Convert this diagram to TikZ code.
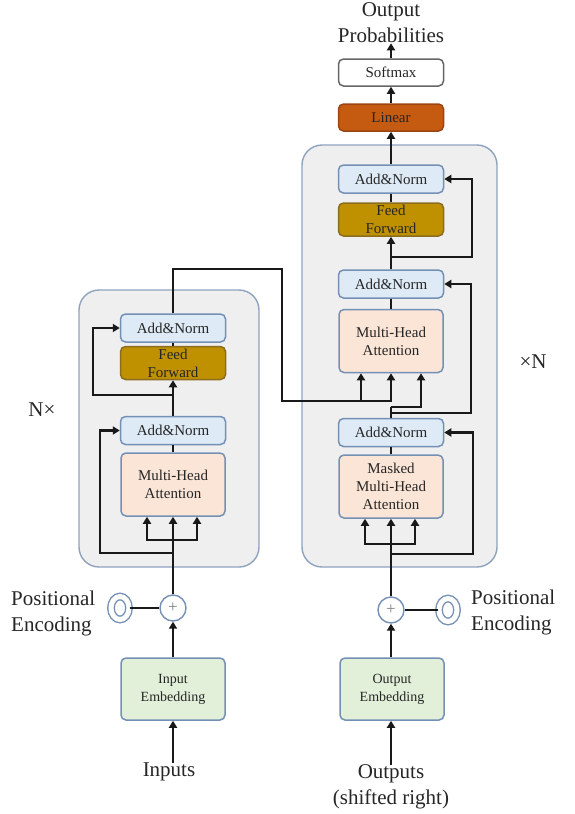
\documentclass[tikz,border=0pt]{standalone}
\usepackage{fontspec}
\setmainfont{Liberation Serif}
\usetikzlibrary{arrows.meta,shapes.geometric}

\definecolor{stackfill}{HTML}{EFEFEF}
\definecolor{stackline}{HTML}{8FA2BE}
\definecolor{blockline}{HTML}{7590B5}
\definecolor{anfill}{HTML}{DEEBF7}
\definecolor{fffill}{HTML}{BF9000}
\definecolor{ffline}{HTML}{8C6D1F}
\definecolor{mhafill}{HTML}{FBE5D6}
\definecolor{embfill}{HTML}{E2F0D9}
\definecolor{linfill}{HTML}{C55A11}
\definecolor{linline}{HTML}{9C4414}
\definecolor{textgray}{HTML}{262626}

\begin{document}
\begin{tikzpicture}[
    x=1pt, y=-1pt, % pixel grid, y runs down
    >={Triangle[length=7pt,width=8pt]},
    wire/.style={line width=2.3pt, black!90},
    stack/.style={draw=stackline, fill=stackfill, line width=1.4pt, rounded corners=20pt, inner sep=0pt},
    block/.style={draw=blockline, line width=1.5pt, rounded corners=5pt, inner sep=0pt,
      align=center, text=textgray, font=\fontsize{15}{18}\selectfont},
    addnorm/.style={block, fill=anfill, minimum width=105pt, minimum height=28pt},
    feedfwd/.style={block, draw=ffline, fill=fffill, minimum width=105pt, minimum height=33pt},
    attention/.style={block, fill=mhafill, minimum width=104pt, minimum height=63pt},
    embed/.style={block, fill=embfill, minimum width=104pt, minimum height=62pt, font=\fontsize{14}{18}\selectfont},
    plus/.style={circle, draw=blockline, fill=white, line width=1.4pt, minimum size=26pt, inner sep=0pt,
      text=gray, font=\fontsize{17}{17}\selectfont},
    posenc/.style={ellipse, draw=blockline, double=white, double distance=5pt, line width=1.4pt,
      minimum width=18pt, minimum height=23pt, inner sep=0pt},
    big label/.style={inner sep=0pt, text=textgray, font=\fontsize{21}{26}\selectfont}
  ]

  \useasboundingbox (0,0) rectangle (575,814);

  % Encoder and decoder stacks
  \node[stack, minimum width=180pt, minimum height=277pt] (encbox) at (169,428.5) {};
  \node[stack, minimum width=195pt, minimum height=422pt] (decbox) at (399.5,356) {};

  % Encoder
  \node[addnorm] (encan2) at (173,328) {Add\&Norm};
  \node[feedfwd] (encff) at (173,363) {Feed\\Forward};
  \node[addnorm] (encan1) at (173,430.5) {Add\&Norm};
  \node[attention] (encmha) at (173,484.5) {Multi-Head\\Attention};
  \node[plus] (encplus) at (173,608) {+};
  \node[posenc] (encpe) at (120,608) {};
  \node[embed] (encemb) at (173,689) {Input\\Embedding};
  \node[big label] (inputs) at (169,772) {Inputs};
  \node[big label, anchor=west, align=left] (encposlabel) at (11,613) {Positional\\Encoding};
  \node[big label] (encrepeat) at (42,410) {N×};

  % Decoder
  \node[block, fill=white, draw=black!60, minimum width=105pt, minimum height=27pt] (softmax) at (391,72.5) {Softmax};
  \node[block, draw=linline, fill=linfill, minimum width=105pt, minimum height=27pt] (linear) at (391,117.5) {Linear};
  \node[addnorm] (decan3) at (391,179) {Add\&Norm};
  \node[feedfwd] (decff) at (391,219.5) {Feed\\Forward};
  \node[addnorm] (decan2) at (391,284) {Add\&Norm};
  \node[attention] (decmha) at (391,341) {Multi-Head\\Attention};
  \node[addnorm] (decan1) at (391,432.5) {Add\&Norm};
  \node[attention] (decmmha) at (391,486.5) {Masked\\Multi-Head\\Attention};
  \node[plus] (decplus) at (391,610) {+};
  \node[posenc] (decpe) at (448,610) {};
  \node[embed] (decemb) at (392,689) {Output\\Embedding};
  \node[big label, align=center] (outputs) at (391,787) {Outputs\\(shifted right)};
  \node[big label, align=center] (probs) at (391,23) {Output\\Probabilities};
  \node[big label, anchor=west, align=left] (decposlabel) at (471,612) {Positional\\Encoding};
  \node[big label] (decrepeat) at (533,362) {×N};

  % Encoder wiring
  \draw[wire, ->] (inputs.north -| encemb) -- (encemb);
  \draw[wire, ->] (encemb) -- (encplus);
  \draw[wire] (encpe) -- (encplus);
  \draw[wire, ->] (encplus) -- (encmha);
  \coordinate (encsplit) at (173,540);
  \draw[wire, ->] (encsplit) -| ([xshift=-26pt]encmha.south);
  \draw[wire, ->] (encsplit) -| ([xshift=24pt]encmha.south);
  \coordinate (encres1) at (173,553);
  \draw[wire, ->] (encres1) -- ++(-73,0) |- (encan1.west);
  \draw[wire] (encmha) -- (encan1);
  \draw[wire, ->] (encan1) -- (encff);
  \coordinate (encres2) at (173,395);
  \draw[wire, ->] (encres2) -- ++(-80,0) |- (encan2.west);
  \draw[wire] (encff) -- (encan2);

  % Encoder output into decoder
  \coordinate (memtop) at (173,269);
  \coordinate (memdrop) at (282,401);
  \draw[wire, ->] (encan2) -- (memtop) -| (memdrop) -| (decmha.south);
  \draw[wire, ->] ([xshift=-30pt]decmha.south |- memdrop) -- ([xshift=-30pt]decmha.south);

  % Decoder wiring
  \draw[wire, ->] (outputs.north -| decplus) -- (decemb.south -| decplus);
  \draw[wire, ->] (decemb.north -| decplus) -- (decplus);
  \draw[wire] (decpe) -- (decplus);
  \draw[wire, ->] (decplus) -- (decmmha);
  \coordinate (decsplit) at (391,544);
  \draw[wire, ->] (decsplit) -| ([xshift=-26pt]decmmha.south);
  \draw[wire, ->] (decsplit) -| ([xshift=24pt]decmmha.south);
  \coordinate (decres1) at (391,554);
  \draw[wire, ->] (decres1) -- ++(82,0) |- (decan1.east);
  \draw[wire] (decmmha) -- (decan1);
  \coordinate (decquery) at (391,407);
  \draw[wire] (decan1) -- (decquery);
  \draw[wire, ->] (decquery) -| ([xshift=30pt]decmha.south);
  \coordinate (decres2) at (391,413);
  \draw[wire, ->] (decres2) -- ++(80,0) |- (decan2.east);
  \draw[wire] (decmha) -- (decan2);
  \draw[wire, ->] (decan2) -- (decff);
  \coordinate (decres3) at (391,257);
  \draw[wire, ->] (decres3) -- ++(81,0) |- (decan3.east);
  \draw[wire] (decff) -- (decan3);
  \draw[wire, ->] (decan3) -- (linear);
  \draw[wire, ->] (linear) -- (softmax);
  \draw[wire, ->] (softmax) -- (probs);

\end{tikzpicture}
\end{document}
